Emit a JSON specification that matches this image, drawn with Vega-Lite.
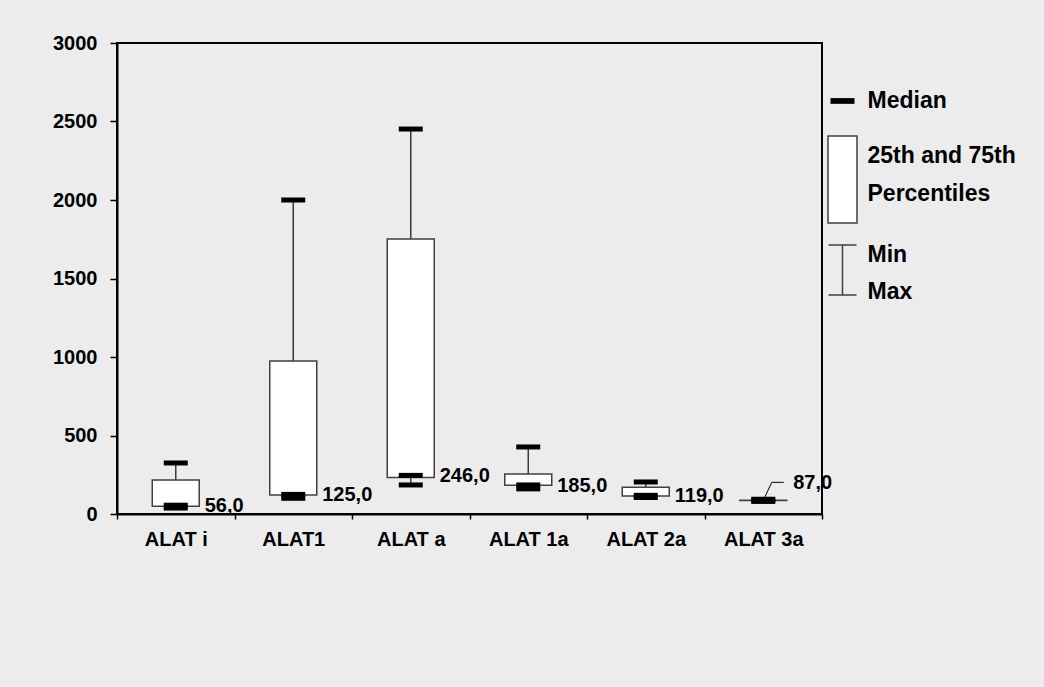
{
  "$schema": "https://vega.github.io/schema/vega-lite/v6.json",
  "background": "#ececec",
  "padding": {"left": 51, "top": 32, "right": 28, "bottom": 138},
  "bounds": "flush",
  "spacing": 0,
  "config": {
    "locale": {"number": {"decimal": ",", "thousands": ".", "grouping": [3], "currency": ["", " €"]}},
    "font": "Liberation Sans",
    "view": {"stroke": null}
  },
  "hconcat": [
    {
      "width": 705,
      "height": 471,
      "view": {"stroke": "#000000", "strokeWidth": 2},
      "data": {
        "values": [
          {"cat": "ALAT i", "min": 38, "q1": 50, "median": 56, "q3": 216, "max": 325},
          {"cat": "ALAT1", "min": 100, "q1": 121, "median": 125, "q3": 975, "max": 2000},
          {"cat": "ALAT a", "min": 185, "q1": 232, "median": 246, "q3": 1752, "max": 2452},
          {"cat": "ALAT 1a", "min": 160, "q1": 183, "median": 185, "q3": 255, "max": 427},
          {"cat": "ALAT 2a", "min": 105, "q1": 115, "median": 119, "q3": 170, "max": 204},
          {"cat": "ALAT 3a", "min": 80, "q1": 86, "median": 87, "q3": 88, "max": 94}
        ]
      },
      "encoding": {
        "x": {
          "field": "cat",
          "type": "nominal",
          "sort": null,
          "scale": {"paddingInner": 0, "paddingOuter": 0},
          "axis": {
            "title": null,
            "labelAngle": 0,
            "tickBand": "extent",
            "tickSize": 5,
            "tickColor": "#000000",
            "tickWidth": 1.5,
            "domainColor": "#000000",
            "domainWidth": 2,
            "labelFontSize": 20,
            "labelFontWeight": "bold",
            "labelColor": "#000000",
            "labelPadding": 10
          }
        }
      },
      "layer": [
        {
          "mark": {"type": "rule", "color": "#3a3a3a", "strokeWidth": 1.5},
          "encoding": {
            "y": {
              "field": "min",
              "type": "quantitative",
              "scale": {"domain": [0, 3000], "nice": false, "zero": true},
              "axis": {
                "title": null,
                "values": [0, 500, 1000, 1500, 2000, 2500, 3000],
                "format": "d",
                "grid": false,
                "tickSize": 7,
                "tickColor": "#000000",
                "tickWidth": 1.5,
                "domainColor": "#000000",
                "domainWidth": 2,
                "labelFontSize": 20,
                "labelFontWeight": "bold",
                "labelColor": "#000000",
                "labelPadding": 13,
                "labelFlush": false
              }
            },
            "y2": {"field": "max"}
          }
        },
        {
          "mark": {"type": "bar", "width": 47, "fill": "#ffffff", "stroke": "#404040", "strokeWidth": 1.5, "opacity": 1},
          "encoding": {
            "y": {"field": "q1", "type": "quantitative"},
            "y2": {"field": "q3"}
          }
        },
        {
          "mark": {"type": "tick", "color": "#000000", "size": 24, "thickness": 5, "opacity": 1},
          "encoding": {"y": {"field": "max", "type": "quantitative"}}
        },
        {
          "mark": {"type": "tick", "color": "#000000", "size": 24, "thickness": 5, "opacity": 1},
          "encoding": {"y": {"field": "median", "type": "quantitative"}}
        },
        {
          "mark": {"type": "tick", "color": "#000000", "size": 24, "thickness": 5, "opacity": 1},
          "encoding": {"y": {"field": "min", "type": "quantitative"}}
        },
        {
          "transform": [{"filter": "datum.cat != 'ALAT 3a'"}],
          "mark": {"type": "text", "align": "left", "baseline": "middle", "dx": 29, "dy": 1, "fontSize": 20, "fontWeight": "bold", "color": "#000000"},
          "encoding": {
            "y": {"field": "median", "type": "quantitative"},
            "text": {"field": "median", "type": "quantitative", "format": ".1f"}
          }
        },
        {
          "transform": [{"filter": "datum.cat == 'ALAT 3a'"}],
          "mark": {"type": "text", "align": "left", "baseline": "middle", "dx": 30, "dy": -17, "fontSize": 20, "fontWeight": "bold", "color": "#000000"},
          "encoding": {
            "y": {"field": "median", "type": "quantitative"},
            "text": {"field": "median", "type": "quantitative", "format": ".1f"}
          }
        },
        {
          "transform": [{"filter": "datum.cat == 'ALAT 3a'"}],
          "mark": {"type": "rule", "color": "#000000", "strokeWidth": 1, "xOffset": 1.5, "x2Offset": 8.5, "yOffset": -3, "y2Offset": -18},
          "encoding": {
            "x2": {"field": "cat", "bandPosition": 0.5},
            "y": {"field": "median", "type": "quantitative"},
            "y2": {"field": "median"}
          }
        },
        {
          "transform": [{"filter": "datum.cat == 'ALAT 3a'"}],
          "mark": {"type": "rule", "color": "#000000", "strokeWidth": 1, "xOffset": 8.5, "x2Offset": 20.5, "yOffset": -18},
          "encoding": {
            "x2": {"field": "cat", "bandPosition": 0.5},
            "y": {"field": "median", "type": "quantitative"}
          }
        }
      ]
    },
    {
      "width": 41,
      "height": 285,
      "data": {
        "values": [
          {"item": "Median", "label": "Median"},
          {"item": "Pct", "label": "25th and 75th\nPercentiles"},
          {"item": "MinMax", "label": "Min\nMax"}
        ]
      },
      "encoding": {
        "y": {"field": "item", "type": "nominal", "sort": null, "scale": {"type": "point", "padding": 0.686}, "axis": null}
      },
      "layer": [
        {
          "transform": [{"filter": "datum.item == 'Median'"}],
          "mark": {"type": "point", "shape": "M-1,-0.24H1V0.24H-1Z", "size": 576, "filled": true, "color": "#000000", "opacity": 1, "strokeWidth": 0}
        },
        {
          "transform": [{"filter": "datum.item == 'Pct'"}],
          "mark": {"type": "point", "shape": "M-0.333,-1H0.333V1H-0.333Z", "size": 7569, "filled": true, "fill": "#ffffff", "stroke": "#404040", "strokeWidth": 1.5, "opacity": 1, "yOffset": -6}
        },
        {
          "transform": [{"filter": "datum.item == 'MinMax'"}],
          "mark": {"type": "point", "shape": "M-0.56,-1H0.56M0,-1V1M-0.56,1H0.56", "size": 2500, "filled": false, "color": "#404040", "strokeWidth": 1.5, "opacity": 1}
        },
        {
          "transform": [{"filter": "datum.item == 'Median'"}],
          "mark": {"type": "text", "align": "left", "baseline": "middle", "dx": 25, "fontSize": 23, "fontWeight": "bold", "color": "#000000"},
          "encoding": {"text": {"field": "label", "type": "nominal"}}
        },
        {
          "transform": [{"filter": "datum.item == 'Pct'"}],
          "mark": {"type": "text", "align": "left", "baseline": "middle", "dx": 25, "dy": -29.5, "fontSize": 23, "fontWeight": "bold", "lineBreak": "\n", "lineHeight": 38, "color": "#000000"},
          "encoding": {"text": {"field": "label", "type": "nominal"}}
        },
        {
          "transform": [{"filter": "datum.item == 'MinMax'"}],
          "mark": {"type": "text", "align": "left", "baseline": "middle", "dx": 25, "dy": -15, "fontSize": 23, "fontWeight": "bold", "lineBreak": "\n", "lineHeight": 37, "color": "#000000"},
          "encoding": {"text": {"field": "label", "type": "nominal"}}
        }
      ]
    }
  ]
}
